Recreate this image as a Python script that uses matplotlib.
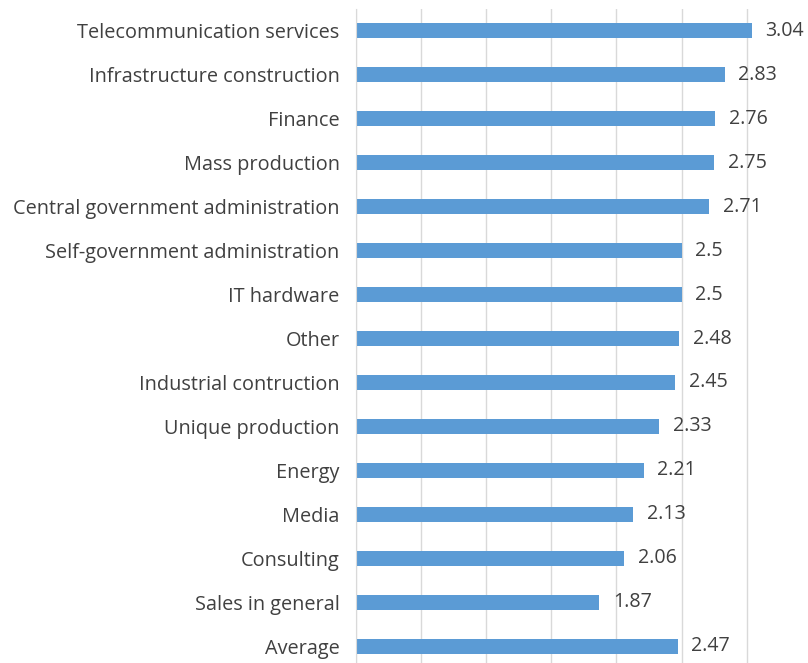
import matplotlib
matplotlib.use("Agg")
import matplotlib.pyplot as plt
import numpy as np

plt.rcParams['font.family'] = ['Open Sans', 'DejaVu Sans']

sectors = ["Telecommunication services", "Infrastructure construction", "Finance",
           "Mass production", "Central government administration",
           "Self-government administration", "IT hardware", "Other",
           "Industrial contruction", "Unique production", "Energy", "Media",
           "Consulting", "Sales in general", "Average"]
scores = [3.04, 2.83, 2.76, 2.75, 2.71, 2.5, 2.5, 2.48, 2.45, 2.33, 2.21, 2.13,
          2.06, 1.87, 2.47]

fig = plt.figure(figsize=(8.08, 6.63), dpi=100)
ax = fig.add_axes([355.5 / 808, -5 / 663, 452.5 / 808, 659 / 663])

y = np.arange(len(sectors))
ax.barh(y, scores, height=0.34, color='#5B9BD5', zorder=3)
for yi, v in zip(y, scores):
    ax.text(v + 0.105, yi, f"{v:g}", va='center', ha='left',
            fontsize=14.1, color='#404040')

ax.set_ylim(len(sectors) - 0.5, -0.5)
ax.set_xlim(0, 3.47)
ax.set_xticks(np.arange(0, 3.01, 0.5))
ax.set_xticklabels([])
ax.set_yticks(y)
ax.set_yticklabels(sectors, fontsize=14.3, color='#404040')
ax.tick_params(axis='both', length=0)
ax.tick_params(axis='y', pad=11.5)
ax.grid(axis='x', color='#D9D9D9', linewidth=1, zorder=0)
for s in ['top', 'right', 'bottom']:
    ax.spines[s].set_visible(False)
ax.spines['left'].set_color('#D9D9D9')
ax.spines['left'].set_zorder(4)

fig.savefig("out.png", dpi=100)
